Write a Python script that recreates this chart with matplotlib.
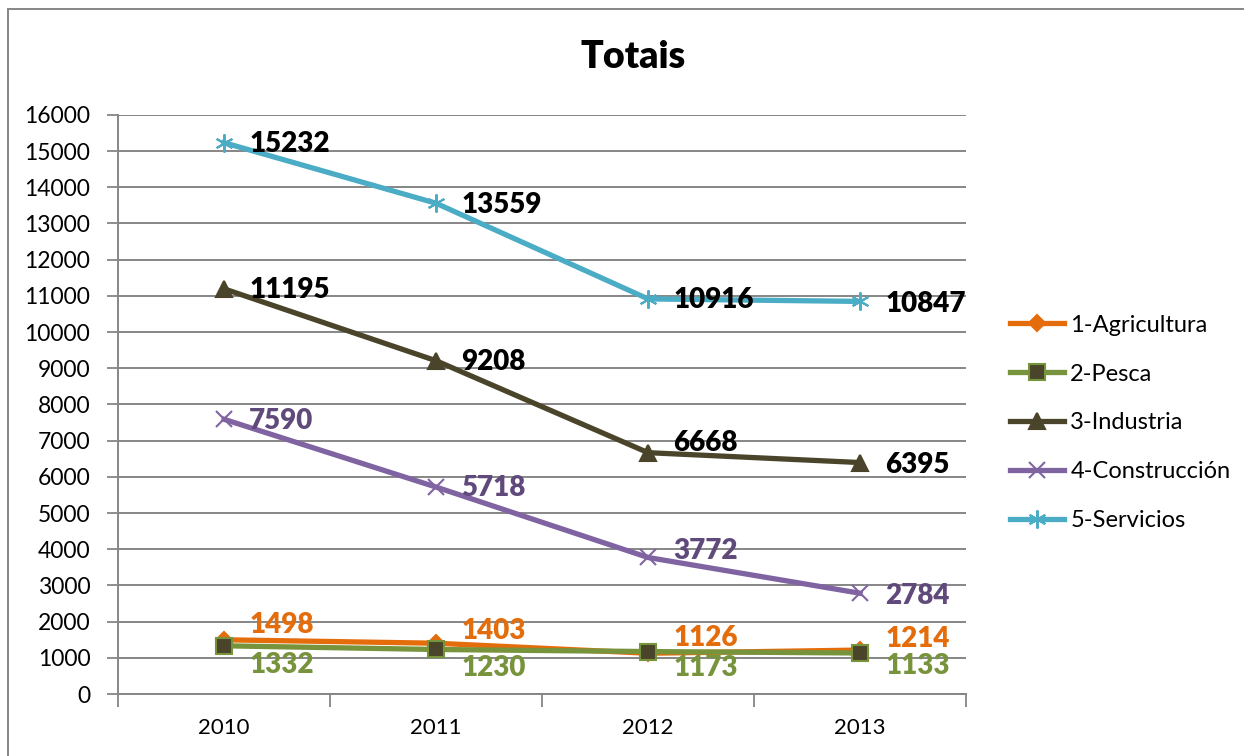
import matplotlib.pyplot as plt
from matplotlib.patches import Rectangle

plt.rcParams['font.family'] = ['Lato', 'DejaVu Sans']

years = ['2010', '2011', '2012', '2013']
agricultura = [1498, 1403, 1126, 1214]
pesca = [1332, 1230, 1173, 1133]
industria = [11195, 9208, 6668, 6395]
construccion = [7590, 5718, 3772, 2784]
servicios = [15232, 13559, 10916, 10847]

series = [
    # name, values, line colour, marker, marker size, face, edge, label colour, label y offsets (pt)
    ('1-Agricultura', agricultura, '#E46C0A', 'D', 8, '#E46C0A', '#E46C0A', '#E46C0A', [11, 9, 11, 8]),
    ('2-Pesca', pesca, '#77933C', 's', 12, '#4A452A', '#77933C', '#77933C', [-14, -13, -12, -9]),
    ('3-Industria', industria, '#4A452A', '^', 12, '#4A452A', '#4A452A', 'black', [-1, -1, 7, -2]),
    ('4-Construcción', construccion, '#8064A2', 'x', 11, '#8064A2', '#8064A2', '#604A7B', [-1, -1, 5, -2]),
    ('5-Servicios', servicios, '#4BACC6', (6, 2, 0), 13, '#4BACC6', '#4BACC6', 'black', [-1, -1, -1, -2]),
]

fig = plt.figure(figsize=(12.44, 7.56), dpi=100)
ax = fig.add_axes([0.0949, 0.082, 0.6817, 0.766])

x = list(range(len(years)))
for name, vals, col, mk, ms, fc, ec, lc, offs in series:
    ax.plot(x, vals, color=col, lw=3.8, marker=mk, markersize=ms,
            markerfacecolor=fc, markeredgecolor=ec, markeredgewidth=1.5,
            label=name, zorder=3)
    for xi, v, dy in zip(x, vals, offs):
        ax.annotate(str(v), (xi, v), xytext=(18, dy), textcoords='offset points',
                    ha='left', va='center', fontsize=20, fontweight='heavy',
                    color=lc, zorder=5)

ax.set_xlim(-0.5, 3.5)
ax.set_ylim(0, 16000)
ax.set_yticks(range(0, 16001, 1000))
ax.set_xticks(x)
ax.set_xticklabels(years)
ax.set_xticks([-0.5, 0.5, 1.5, 2.5, 3.5], minor=True)
ax.tick_params(axis='x', which='major', length=0, labelsize=16, pad=17)
ax.tick_params(axis='x', which='minor', length=9, width=1.3, color='#868686')
ax.tick_params(axis='y', length=8, width=1.3, color='#868686', labelsize=16.5, pad=12)
ax.grid(axis='y', color='#868686', lw=1.4, zorder=0)
for s in ['top', 'right']:
    ax.spines[s].set_visible(False)
for s in ['left', 'bottom']:
    ax.spines[s].set_color('#868686')
    ax.spines[s].set_linewidth(1.4)

fig.text(0.509, 1 - 57 / 756, 'Totais', ha='center', va='center',
         fontsize=27, fontweight='heavy')

fig.legend(loc='center left', bbox_to_anchor=(0.812, 0.4405), frameon=False,
           fontsize=17, handlelength=2.3, handletextpad=0.25, labelspacing=1.18,
           borderaxespad=0, borderpad=0)

fig.patches.append(Rectangle((0.0064, -0.05), 1.2, 1.038, transform=fig.transFigure,
                             fill=False, edgecolor='#868686', lw=1.4))

fig.savefig('out.png', dpi=100)
